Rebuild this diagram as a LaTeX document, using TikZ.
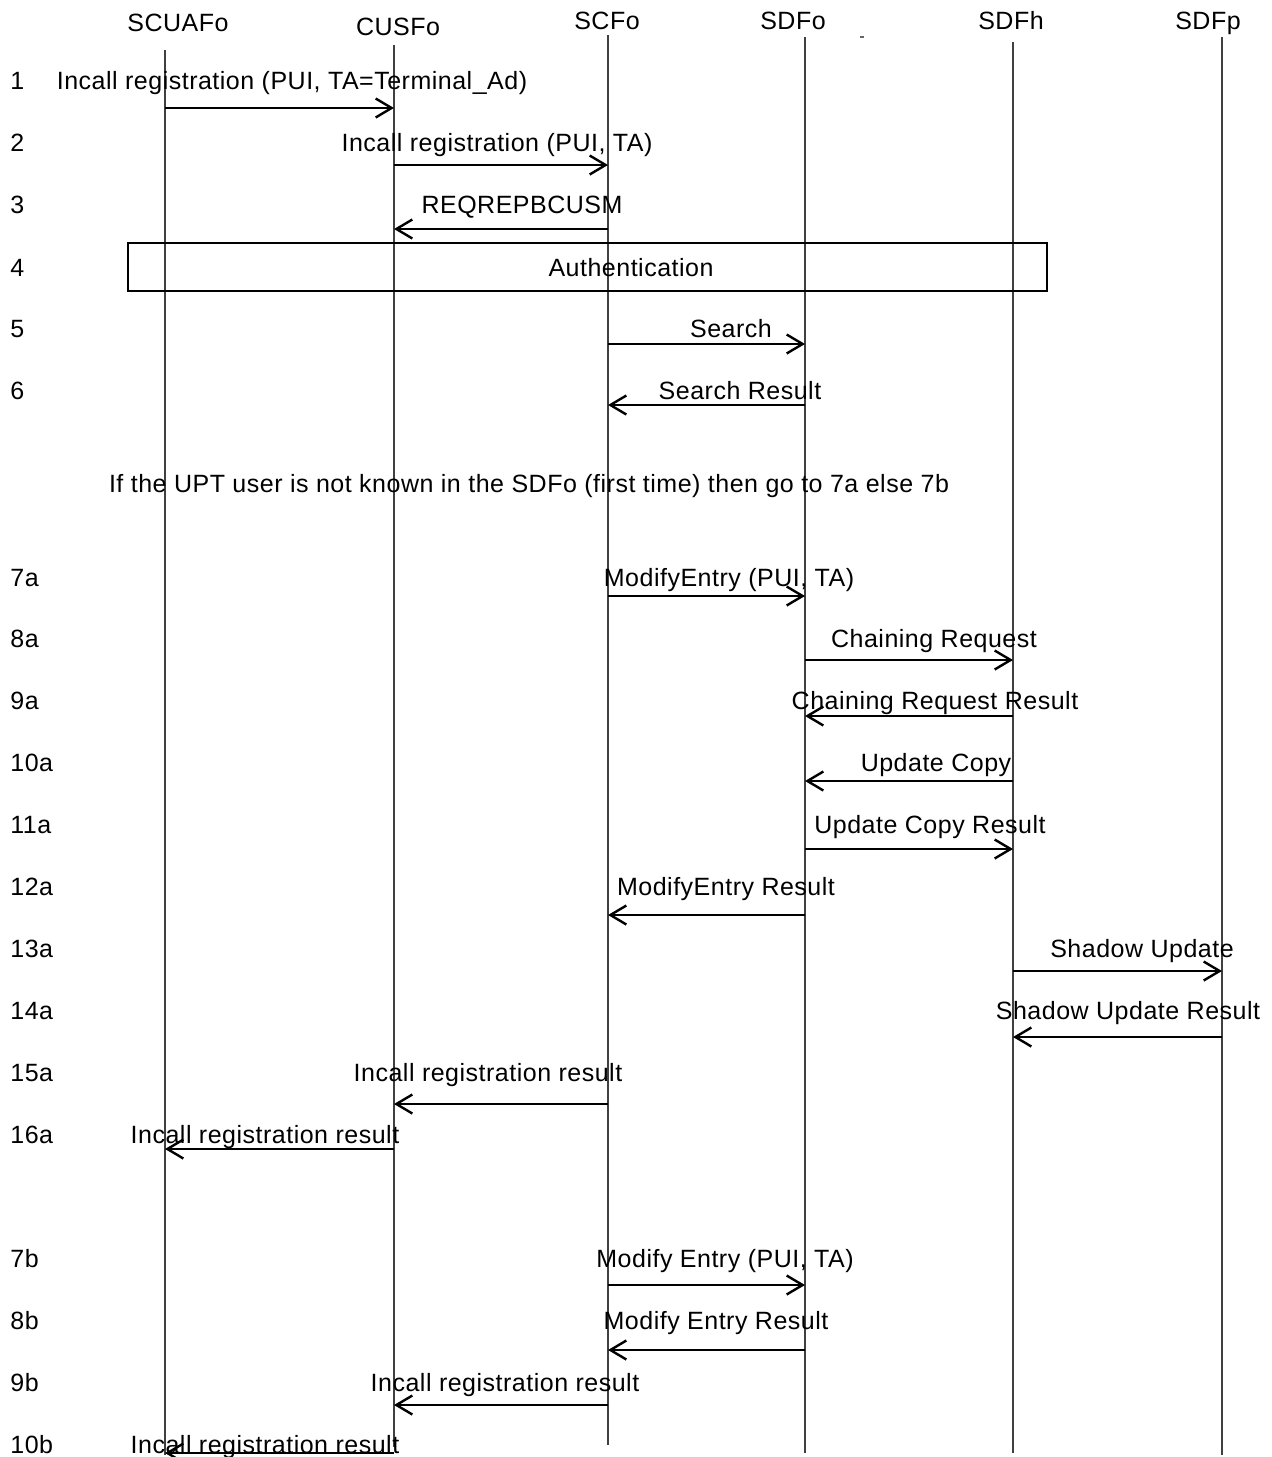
\documentclass[tikz,border=0pt]{standalone}
\usepackage{fontspec}
\setmainfont{Liberation Sans}[LetterSpace=2.0]
\usetikzlibrary{arrows.meta}
\begin{document}
\begin{tikzpicture}[x=0.5pt,y=-0.5pt,
  lifeline/.style={line width=0.55pt,black!75},
  msg/.style={line width=0.55pt,-{Straight Barb[length=8pt,width=9.5pt,line width=1.2pt]}},
  lbl/.style={anchor=base,inner sep=0pt,font=\fontsize{12.5pt}{15pt}\selectfont},
  num/.style={anchor=base west,inner sep=0pt,font=\fontsize{12.5pt}{15pt}\selectfont},
  authbox/.style={draw,line width=0.55pt,inner sep=0pt}]
\useasboundingbox (0,0) rectangle (1272,1457);
% headers
\node[lbl] (hA) at (178,31) {SCUAFo};
\node[lbl] (hB) at (398,35) {CUSFo};
\node[lbl] (hC) at (607,29) {SCFo};
\node[lbl] (hD) at (793,29) {SDFo};
\node[lbl] (hE) at (1011,29) {SDFh};
\node[lbl] (hF) at (1208,29) {SDFp};
\fill[black!60] (860,36) rectangle (864,38);
% lifelines
\coordinate (At) at (165,50);  \coordinate (Ab) at (165,1455);
\coordinate (Bt) at (394,45);  \coordinate (Bb) at (394,1447);
\coordinate (Ct) at (608,35);  \coordinate (Cb) at (608,1445);
\coordinate (Dt) at (805,37);  \coordinate (Db) at (805,1453);
\coordinate (Et) at (1013,42); \coordinate (Eb) at (1013,1453);
\coordinate (Ft) at (1222,37); \coordinate (Fb) at (1222,1455);
\foreach \n in {A,B,C,D,E,F} {\draw[lifeline] (\n t) -- (\n b);}
% row coordinates (arrow levels)
\coordinate (r1) at (0,108);
\coordinate (r2) at (0,165);
\coordinate (r3) at (0,229);
\coordinate (r5) at (0,344);
\coordinate (r6) at (0,405);
\coordinate (r7a) at (0,596);
\coordinate (r8a) at (0,660);
\coordinate (r9a) at (0,716);
\coordinate (r10a) at (0,781);
\coordinate (r11a) at (0,849);
\coordinate (r12a) at (0,915);
\coordinate (r13a) at (0,971);
\coordinate (r14a) at (0,1037);
\coordinate (r15a) at (0,1104);
\coordinate (r16a) at (0,1149);
\coordinate (r7b) at (0,1285);
\coordinate (r8b) at (0,1350);
\coordinate (r9b) at (0,1405);
\coordinate (r10b) at (0,1453);
% row numbers
\node[num] (n1) at (10,89) {1};
\node[num] (n2) at (10,151) {2};
\node[num] (n3) at (10,213) {3};
\node[num] (n4) at (10,276) {4};
\node[num] (n5) at (10,337) {5};
\node[num] (n6) at (10,399) {6};
\node[num] (n7a) at (10,586) {7a};
\node[num] (n8a) at (10,647) {8a};
\node[num] (n9a) at (10,709) {9a};
\node[num] (n10a) at (10,771) {10a};
\node[num] (n11a) at (10,833) {11a};
\node[num] (n12a) at (10,895) {12a};
\node[num] (n13a) at (10,957) {13a};
\node[num] (n14a) at (10,1019) {14a};
\node[num] (n15a) at (10,1081) {15a};
\node[num] (n16a) at (10,1143) {16a};
\node[num] (n7b) at (10,1267) {7b};
\node[num] (n8b) at (10,1329) {8b};
\node[num] (n9b) at (10,1391) {9b};
\node[num] (n10b) at (10,1453) {10b};
% authentication box
\node[authbox,minimum width=459.5pt,minimum height=24pt] (auth) at (587.5,267) {};
\node[lbl] (authl) at (631,276) {Authentication};
% messages
\draw[msg] (At |- r1) -- (Bt |- r1);
\node[lbl] (m1) at (292,89) {Incall registration (PUI, TA=Terminal\_Ad)};
\draw[msg] (Bt |- r2) -- (Ct |- r2);
\node[lbl] (m2) at (497,151) {Incall registration (PUI, TA)};
\draw[msg] (Ct |- r3) -- (Bt |- r3);
\node[lbl] (m3) at (522,213) {REQREPBCUSM};
\draw[msg] (Ct |- r5) -- (Dt |- r5);
\node[lbl] (m5) at (731,337) {Search};
\draw[msg] (Dt |- r6) -- (Ct |- r6);
\node[lbl] (m6) at (740,399) {Search Result};
\node[lbl] (cond) at (529,492) {If the UPT user is not known in the SDFo (first time) then go to 7a else 7b};
\draw[msg] (Ct |- r7a) -- (Dt |- r7a);
\node[lbl] (m7a) at (729,586) {ModifyEntry (PUI, TA)};
\draw[msg] (Dt |- r8a) -- (Et |- r8a);
\node[lbl] (m8a) at (934,647) {Chaining Request};
\draw[msg] (Et |- r9a) -- (Dt |- r9a);
\node[lbl] (m9a) at (935,709) {Chaining Request Result};
\draw[msg] (Et |- r10a) -- (Dt |- r10a);
\node[lbl] (m10a) at (936,771) {Update Copy};
\draw[msg] (Dt |- r11a) -- (Et |- r11a);
\node[lbl] (m11a) at (930,833) {Update Copy Result};
\draw[msg] (Dt |- r12a) -- (Ct |- r12a);
\node[lbl] (m12a) at (726,895) {ModifyEntry Result};
\draw[msg] (Et |- r13a) -- (Ft |- r13a);
\node[lbl] (m13a) at (1142,957) {Shadow Update};
\draw[msg] (Ft |- r14a) -- (Et |- r14a);
\node[lbl] (m14a) at (1128,1019) {Shadow Update Result};
\draw[msg] (Ct |- r15a) -- (Bt |- r15a);
\node[lbl] (m15a) at (488,1081) {Incall registration result};
\draw[msg] (Bt |- r16a) -- (At |- r16a);
\node[lbl] (m16a) at (265,1143) {Incall registration result};
\draw[msg] (Ct |- r7b) -- (Dt |- r7b);
\node[lbl] (m7b) at (725,1267) {Modify Entry (PUI, TA)};
\draw[msg] (Dt |- r8b) -- (Ct |- r8b);
\node[lbl] (m8b) at (716,1329) {Modify Entry Result};
\draw[msg] (Ct |- r9b) -- (Bt |- r9b);
\node[lbl] (m9b) at (505,1391) {Incall registration result};
\draw[msg] (Bt |- r10b) -- (At |- r10b);
\node[lbl] (m10b) at (265,1453) {Incall registration result};
\end{tikzpicture}
\end{document}
